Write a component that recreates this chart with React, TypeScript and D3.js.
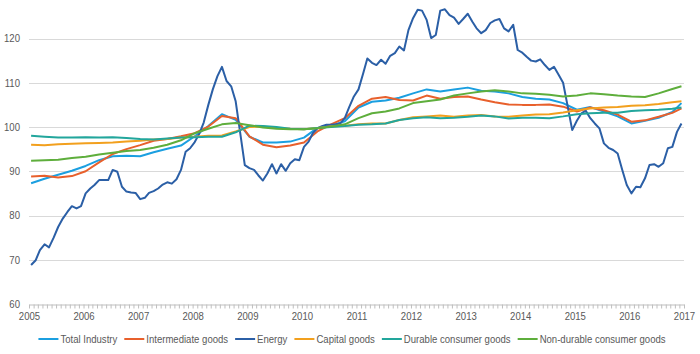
import React, { useEffect, useRef } from 'react';
import * as d3 from 'd3';

// monthly index, Jan 2005 = 0 ... Dec 2016 = 143
const energy = [
  68.8, 69.9, 72.2, 73.5, 72.8, 75.0, 77.4, 79.3, 80.8, 82.1, 81.6, 82.1,
  85.0, 86.1, 86.9, 88.0, 88.0, 88.0, 90.3, 89.9, 86.5, 85.4, 85.2, 85.1,
  83.7, 84.0, 85.1, 85.5, 86.1, 87.0, 87.5, 87.2, 88.2, 90.3, 94.4, 95.2,
  96.6, 98.5, 101.0, 105.0, 108.5, 111.5, 113.6, 110.4, 109.2, 105.8, 98.5, 91.4,
  90.7, 90.3, 89.1, 87.9, 89.5, 91.6, 89.5, 91.6, 90.1, 91.8, 92.7, 92.5,
  95.5, 96.7, 98.6, 99.7, 100.2, 100.5, 100.5, 100.6, 100.8, 102.0, 104.6, 106.9,
  108.5, 112.1, 115.5, 114.5, 114.0, 115.2, 114.3, 116.1, 116.7, 118.2, 117.3, 121.9,
  124.6, 126.5, 126.3, 124.2, 120.1, 120.8, 126.3, 126.6, 125.3, 124.7, 123.3, 124.4,
  125.6, 123.8, 122.3, 121.2, 121.9, 123.5, 124.1, 124.4, 122.3, 121.6, 123.1, 117.4,
  116.8, 115.8, 115.0, 114.8, 115.3, 114.0, 112.9, 113.6, 111.8, 110.0, 104.6, 99.3,
  101.4, 103.1, 103.7, 102.0, 100.8, 99.7, 96.3, 95.3, 94.8, 94.0, 90.3, 86.9,
  85.0, 86.5, 86.4, 88.4, 91.4, 91.6, 91.0, 91.8, 95.2, 95.5, 98.9, 100.8,
];

// quarterly readings (every 3rd month) plus the last month
const totalIndustry = [
  87.3, 88.3, 89.2, 90.1, 91.2, 92.5, 93.4, 93.5, 93.4, 94.3, 95.1, 95.8,
  97.9, 100.2, 102.9, 101.6, 97.8, 96.5, 96.5, 96.7, 97.6, 99.8, 100.3, 101.3,
  104.4, 105.7, 106.0, 106.6, 107.6, 108.5, 108.0, 108.5, 108.9, 108.2, 108.0, 107.6,
  106.8, 106.4, 106.2, 105.4, 103.9, 104.5, 103.5, 102.4, 100.8, 101.4, 102.1, 103.4,
  105.4,
];
const intermediate = [
  88.8, 89.0, 88.6, 88.9, 90.0, 92.0, 93.9, 95.0, 95.9, 96.9, 97.3, 97.9,
  98.6, 100.1, 102.5, 102.0, 97.9, 96.0, 95.4, 95.8, 96.5, 99.0, 100.6, 102.0,
  104.8, 106.4, 106.8, 106.1, 106.0, 107.1, 106.4, 106.8, 106.9, 106.2, 105.6, 105.1,
  105.0, 105.0, 105.1, 104.6, 103.5, 104.4, 103.8, 102.8, 101.2, 101.5, 102.3, 103.2,
  104.2,
];
const capital = [
  96.0, 95.9, 96.1, 96.2, 96.3, 96.4, 96.5, 96.7, 96.9, 97.2, 97.3, 97.6,
  97.8, 98.0, 98.1, 99.0, 100.0, 100.1, 99.8, 99.6, 99.5, 99.8, 100.1, 100.3,
  100.6, 100.8, 100.8, 101.6, 102.2, 102.4, 102.6, 102.3, 102.6, 102.7, 102.4, 102.3,
  102.6, 102.8, 102.9, 103.3, 103.8, 104.2, 104.4, 104.5, 104.8, 104.9, 105.2, 105.6,
  105.8,
];
const durable = [
  98.0, 97.8, 97.6, 97.6, 97.7, 97.6, 97.7, 97.5, 97.3, 97.2, 97.4, 97.6,
  97.7, 97.8, 97.8, 98.8, 100.3, 100.2, 100.0, 99.6, 99.5, 99.8, 100.0, 100.2,
  100.5, 100.6, 100.8, 101.6, 102.0, 102.2, 102.0, 102.1, 102.3, 102.6, 102.4, 101.9,
  102.1, 102.1, 102.0, 102.4, 102.9, 103.1, 103.2, 103.2, 103.6, 103.8, 103.9, 104.1,
  104.4,
];
const nonDurable = [
  92.4, 92.5, 92.6, 93.0, 93.3, 93.8, 94.2, 94.6, 94.8, 95.3, 96.0, 97.0,
  98.6, 99.6, 100.6, 100.9, 100.4, 99.9, 99.6, 99.5, 99.5, 99.7, 100.1, 100.6,
  102.0, 103.1, 103.5, 104.2, 105.4, 105.8, 106.2, 107.1, 107.6, 108.0, 108.3, 108.0,
  107.6, 107.5, 107.3, 106.9, 107.1, 107.6, 107.4, 107.1, 106.9, 106.8, 107.6, 108.6,
  109.2,
];

const seriesNames = [
  'Total Industry',
  'Intermediate goods',
  'Energy',
  'Capital goods',
  'Durable consumer goods',
  'Non-durable consumer goods',
];
const seriesColors = ['#1b9fe0', '#e8602c', '#2b5fa6', '#f2a01e', '#22a69c', '#5eae3c'];
const yTicks = [60, 70, 80, 90, 100, 110, 120];
const years = d3.range(2005, 2018);

const FONT = '"Liberation Sans", Arial, sans-serif';
// the original uses a narrow face; squeeze the regular one to match
const SQUEEZE = 0.87;

const quarterMonths = d3.range(0, 144, 3).concat([143]);
const monthDate = (i: number) => new Date(2005, i, 15);

const App = () => {
  const svgRef = useRef<SVGSVGElement>(null);

  useEffect(() => {
    const svg = d3.select(svgRef.current);
    svg.selectAll('*').remove();

    const width = 700;

    const x = d3.scaleTime()
      .domain([new Date(2005, 0, 1), new Date(2017, 0, 1)])
      .range([29, 684]);

    const y = d3.scaleLinear()
      .domain([60, 120])
      .range([304, 38.5]);

    // gridlines
    svg.append('g')
      .selectAll('line')
      .data(yTicks.filter(t => t > 60))
      .enter()
      .append('line')
      .attr('x1', x.range()[0])
      .attr('x2', x.range()[1])
      .attr('y1', d => Math.round(y(d)) + 0.5)
      .attr('y2', d => Math.round(y(d)) + 0.5)
      .attr('stroke', '#d9d9d9')
      .attr('stroke-width', 1);

    // y labels
    svg.append('g')
      .selectAll('text')
      .data(yTicks)
      .enter()
      .append('text')
      .attr('transform', d => `translate(20,${y(d)}) scale(${SQUEEZE},1)`)
      .attr('dy', '0.35em')
      .attr('text-anchor', 'end')
      .attr('font-family', FONT)
      .attr('font-size', 11)
      .attr('fill', '#595959')
      .text(d => d);

    // x axis with monthly minor ticks
    const xAxis = svg.append('g')
      .attr('transform', `translate(0,${Math.round(y(60)) + 0.5})`)
      .call(d3.axisBottom(x)
        .ticks(d3.timeMonth.every(1))
        .tickSize(4)
        .tickSizeOuter(0)
        .tickFormat(() => ''));
    xAxis.select('.domain').attr('stroke', '#bfbfbf');
    xAxis.selectAll('.tick line').attr('stroke', '#bfbfbf');

    const yearAxis = svg.append('g')
      .attr('transform', `translate(0,${Math.round(y(60))})`)
      .call(d3.axisBottom(x)
        .tickValues(years.map(yr => new Date(yr, 0, 1)))
        .tickSize(0)
        .tickPadding(8)
        .tickFormat(d3.timeFormat('%Y') as any));
    yearAxis.select('.domain').remove();
    yearAxis.selectAll('text')
      .attr('transform', `scale(${SQUEEZE},1)`)
      .attr('font-family', FONT)
      .attr('font-size', 11)
      .attr('fill', '#595959');

    // series
    const quarterly = [totalIndustry, intermediate, null, capital, durable, nonDurable];
    const line = d3.line<[Date, number]>()
      .x(d => x(d[0]))
      .y(d => y(d[1]));

    quarterly.forEach((vals, k) => {
      const pts: [Date, number][] = vals
        ? vals.map((v, j) => [monthDate(quarterMonths[j]), v])
        : energy.map((v, i) => [monthDate(i), v]);
      svg.append('path')
        .datum(pts)
        .attr('d', line)
        .attr('fill', 'none')
        .attr('stroke', seriesColors[k])
        .attr('stroke-width', 2)
        .attr('stroke-linejoin', 'round');
    });

    // legend
    const legend = svg.append('g');
    const items = legend.selectAll('g')
      .data(seriesNames)
      .enter()
      .append('g');
    items.append('line')
      .attr('x1', 0).attr('x2', 20)
      .attr('y1', 0).attr('y2', 0)
      .attr('stroke', (d, i) => seriesColors[i])
      .attr('stroke-width', 2);
    items.append('text')
      .attr('transform', `translate(22,0) scale(${SQUEEZE},1)`)
      .attr('dy', '0.35em')
      .attr('font-family', FONT)
      .attr('font-size', 11)
      .attr('fill', '#595959')
      .text(d => d);

    let offset = 0;
    const offsets: number[] = [];
    items.each(function () {
      offsets.push(offset);
      const t = (this as SVGGElement).querySelector('text') as SVGTextElement;
      offset += 22 + t.getComputedTextLength() * SQUEEZE + 7;
    });
    const total = offset - 7;
    const start = width / 2 + 2 - total / 2;
    items.attr('transform', (d, i) => `translate(${start + offsets[i]},339)`);
  }, []);

  return (
    <div style={{ position: 'absolute', left: 0, top: 0 }}>
      <svg ref={svgRef} width={700} height={354} style={{ display: 'block', background: '#fff' }}></svg>
    </div>
  );
};

export default App;
